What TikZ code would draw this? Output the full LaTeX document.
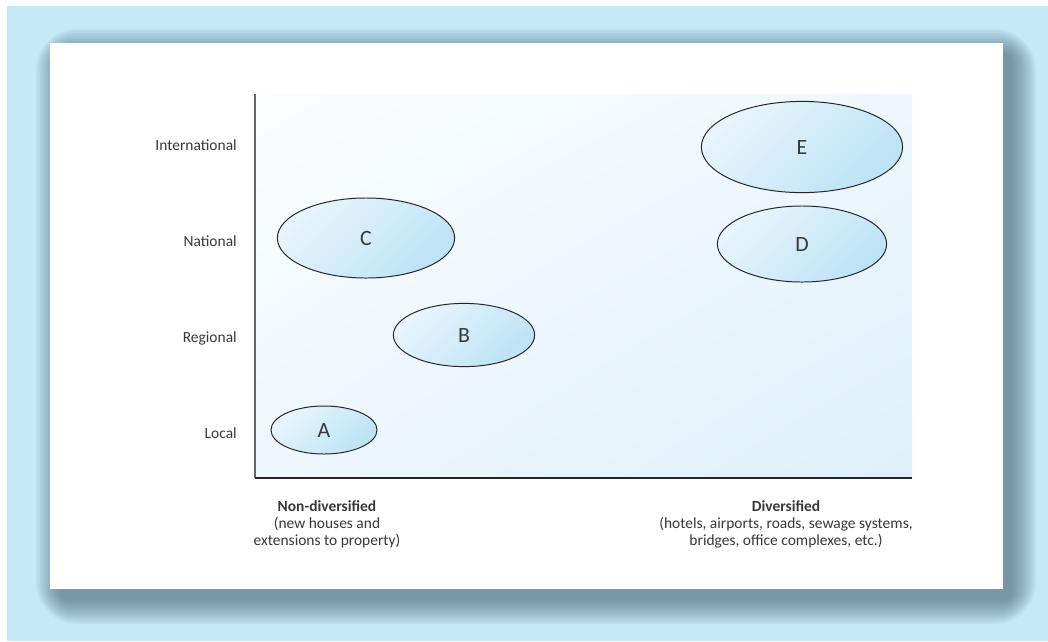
\documentclass[tikz,border=0pt]{standalone}
\usepackage{fontspec}
\setmainfont{Carlito}
\usetikzlibrary{shapes.geometric,shadings}

\definecolor{sky}{HTML}{C6E8F7}
\definecolor{shadowgray}{HTML}{3E5A6B}
\definecolor{inkgray}{HTML}{383838}
\definecolor{blobhi}{HTML}{E8F5FC}
\definecolor{bloblo}{HTML}{BCE3F6}
\definecolor{plothi}{HTML}{FBFDFE}
\definecolor{plotmid}{HTML}{EEF7FC}
\definecolor{plotlo}{HTML}{DDF0FA}

\begin{document}
\begin{tikzpicture}[x=0.025cm, y=-0.025cm,
  blob/.style={ellipse, draw=black!85, line width=0.7pt, top color=blobhi,
    bottom color=bloblo, shading angle=45, inner sep=0pt, text=inkgray,
    font=\fontsize{15.5}{18}\selectfont},
  lvl/.style={anchor=base east, inner sep=0pt, text=inkgray},
  cat/.style={anchor=base, align=center, inner sep=0pt, text=inkgray},
  every node/.style={font=\fontsize{11}{12}\selectfont}
]
\useasboundingbox (0,0) rectangle (1048,641);
\fill[sky] (7,6) rectangle (1048,641);

% soft shadow round the sheet
\foreach \k in {1,...,13}
  \fill[shadowgray, opacity=0.06, rounded corners=2*\k+4]
    (62-2*\k,55-2*\k) rectangle (1010+2*\k,598+2*\k);
\fill[white] (50,43) rectangle (1003,589);

% plot area
\shade[upper left=plothi, upper right=plotmid, lower left=plotmid,
  lower right=plotlo] (255,94) rectangle (912,478);

\coordinate (top) at (255,94);
\coordinate (o) at (255,478);
\coordinate (end) at (912,478);
\draw[line width=1.1pt, black!60] (top) -- (o);
\draw[line width=1.1pt, black!85] (o) -- (end);

% levels
\node[lvl] (intl) at (237,150) {International};
\node[lvl] (natl) at (237,246) {National};
\node[lvl] (regl) at (237,342) {Regional};
\node[lvl] (locl) at (237,438) {Local};

% firms
\node[blob, minimum width=5.03cm, minimum height=2.28cm] (e) at (802,147) {E};
\node[blob, minimum width=4.23cm, minimum height=1.9cm] (d) at (802,244) {D};
\node[blob, minimum width=4.43cm, minimum height=2.0cm] (c) at (366,238) {C};
\node[blob, minimum width=3.53cm, minimum height=1.58cm] (b) at (464,335) {B};
\node[blob, minimum width=2.65cm, minimum height=1.2cm] (a) at (324,430) {A};

% markets (base is the last line)
\node[cat] (nondiv) at (327,545) {\textbf{Non-diversified}\\(new houses and\\extensions to property)};
\node[cat] (div) at (786,545) {\textbf{Diversified}\\(hotels, airports, roads, sewage systems,\\bridges, office complexes, etc.)};
\end{tikzpicture}
\end{document}
